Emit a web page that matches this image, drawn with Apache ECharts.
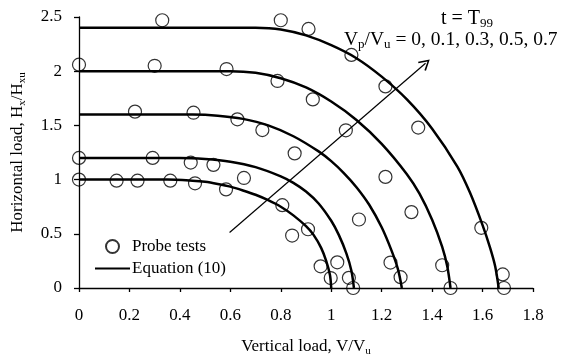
<!DOCTYPE html>
<html>
<head>
<meta charset="utf-8">
<script src="https://cdn.jsdelivr.net/npm/echarts@6/dist/echarts.min.js"></script>
<style>
  html, body { margin: 0; padding: 0; background: #fff; }
  #chart { width: 562px; height: 363px; }
</style>
</head>
<body>
<div id="chart"></div>
<script>
// Axis ranges (V/Vu horizontally, Hx/Hxu vertically)
const xRange = { min: 0, max: 1.8, step: 0.2 };
const yRange = { min: 0, max: 2.5, step: 0.5 };

// Probe test results [V/Vu, Hx/Hxu]
const probeTests = [
  [0, 2.06], [0.33, 2.47], [0.80, 2.47], [0.91, 2.39], [1.08, 2.15],
  [1.215, 1.86], [1.345, 1.48], [1.595, 0.555], [1.68, 0.125], [1.685, 0.0],
  [0.30, 2.05], [0.585, 2.02], [0.787, 1.91], [0.927, 1.74], [1.058, 1.455],
  [1.215, 1.025], [1.318, 0.70], [1.44, 0.21], [1.473, 0.0],
  [0.222, 1.627], [0.454, 1.617], [0.628, 1.556], [0.727, 1.457], [0.855, 1.242],
  [1.11, 0.632], [1.235, 0.235], [1.275, 0.10],
  [0, 1.2], [0.292, 1.2], [0.443, 1.157], [0.533, 1.136], [0.654, 1.015],
  [0.908, 0.542], [1.024, 0.237], [1.07, 0.094], [1.087, 0.0],
  [0, 1.0], [0.149, 0.99], [0.232, 0.99], [0.362, 0.99], [0.46, 0.966],
  [0.583, 0.91], [0.806, 0.764], [0.845, 0.484], [0.958, 0.2], [0.998, 0.092]
];

// Equation (10) envelopes, one per Vp/Vu value
const eqVp00 = [[0, 1.0], [0.35, 1.0], [0.45, 0.99], [0.5, 0.98], [0.55, 0.96], [0.6, 0.935],
  [0.65, 0.9], [0.7, 0.86], [0.75, 0.81], [0.8, 0.75], [0.85, 0.67], [0.9, 0.57],
  [0.93, 0.49], [0.96, 0.37], [0.98, 0.25], [0.995, 0.12], [1.0, 0]];
const eqVp01 = [[0, 1.2], [0.4, 1.2], [0.5, 1.19], [0.6, 1.165], [0.7, 1.115], [0.8, 1.03],
  [0.85, 0.97], [0.9, 0.89], [0.95, 0.78], [1.0, 0.62], [1.03, 0.49], [1.06, 0.32],
  [1.08, 0.16], [1.09, 0]];
const eqVp03 = [[0, 1.6], [0.45, 1.6], [0.55, 1.59], [0.65, 1.56], [0.75, 1.5], [0.85, 1.4],
  [0.95, 1.26], [1.0, 1.17], [1.05, 1.06], [1.1, 0.93], [1.15, 0.77], [1.2, 0.56],
  [1.24, 0.34], [1.265, 0.17], [1.28, 0]];
const eqVp05 = [[0, 2.0], [0.6, 2.0], [0.7, 1.985], [0.8, 1.935], [0.9, 1.85], [1.0, 1.72],
  [1.1, 1.55], [1.2, 1.33], [1.3, 1.05], [1.35, 0.87], [1.4, 0.63], [1.44, 0.38],
  [1.46, 0.2], [1.473, 0]];
const eqVp07 = [[0, 2.4], [0.7, 2.4], [0.8, 2.385], [0.9, 2.33], [1.0, 2.24], [1.1, 2.12],
  [1.2, 1.95], [1.3, 1.74], [1.4, 1.47], [1.5, 1.12], [1.55, 0.88], [1.6, 0.58],
  [1.63, 0.37], [1.65, 0.2], [1.664, 0]];
const equationCurves = [eqVp00, eqVp01, eqVp03, eqVp05, eqVp07];

// Direction arrow of increasing Vp/Vu
const arrowTail = [0.597, 0.512];
const arrowHead = [1.374, 2.074];

const FONT = 'Liberation Serif';
const subStyle = { fontSize: 11, fontFamily: FONT, color: '#000', verticalAlign: 'bottom', lineHeight: 14 };
const subStyleBig = { fontSize: 13, fontFamily: FONT, color: '#000', verticalAlign: 'bottom', lineHeight: 15 };

const chart = echarts.init(document.getElementById('chart'), null, { renderer: 'canvas' });

const curveSeries = equationCurves.map(pts => ({
  name: 'Equation (10)',
  type: 'line',
  data: pts,
  smooth: 0.3,
  symbol: 'none',
  lineStyle: { color: '#000', width: 2.5 },
  itemStyle: { color: 'rgba(0,0,0,0)' },
  silent: true,
  z: 2
}));

const option = {
  animation: false,
  backgroundColor: '#fff',
  grid: { left: 78, right: 29, top: 17, bottom: 75, containLabel: false },
  xAxis: {
    type: 'value', min: xRange.min, max: xRange.max, interval: xRange.step,
    name: 'Vertical load, V/V{sub|u}',
    nameLocation: 'middle', nameGap: 49,
    nameTextStyle: { fontFamily: FONT, fontSize: 17, color: '#000', lineHeight: 20, rich: { sub: subStyle } },
    axisLine: { show: true, onZero: false, lineStyle: { color: '#000', width: 1.3 } },
    axisTick: { show: true, inside: false, length: 4, lineStyle: { color: '#000', width: 1.3 } },
    axisLabel: { fontFamily: FONT, fontSize: 17, color: '#000', margin: 19 },
    splitLine: { show: false }
  },
  yAxis: {
    type: 'value', min: yRange.min, max: yRange.max, interval: yRange.step,
    name: 'Horizontal load, H{sub|x}/H{sub|xu}',
    nameLocation: 'middle', nameGap: 51, nameRotate: 90,
    nameTextStyle: { fontFamily: FONT, fontSize: 17, color: '#000', lineHeight: 20, rich: { sub: subStyle } },
    axisLine: { show: true, onZero: false, lineStyle: { color: '#000', width: 1.3 } },
    axisTick: { show: true, inside: false, length: 5, lineStyle: { color: '#000', width: 1.3 } },
    axisLabel: { fontFamily: FONT, fontSize: 17, color: '#000', margin: 17 },
    splitLine: { show: false }
  },
  legend: {
    orient: 'vertical', left: 89, top: 233,
    itemWidth: 35, itemHeight: 13, itemGap: 5,
    textStyle: { fontFamily: FONT, fontSize: 17, color: '#000', padding: [0, 0, 0, -3] },
    data: ['Probe tests', 'Equation (10)']
  },
  graphic: [
    {
      type: 'text', x: 467, y: 19, silent: true,
      style: {
        text: 't = T{sub|99}', align: 'center', verticalAlign: 'middle',
        fontFamily: FONT, fontSize: 20, fill: '#000', lineHeight: 22,
        rich: { sub: subStyleBig }
      }
    },
    {
      type: 'text', x: 344, y: 40, silent: true,
      style: {
        text: 'V{sub|p}/V{sub|u} = 0, 0.1, 0.3, 0.5, 0.7', align: 'left', verticalAlign: 'middle',
        fontFamily: FONT, fontSize: 19.5, fill: '#000', lineHeight: 22,
        rich: { sub: subStyleBig }
      }
    }
  ],
  series: [
    {
      name: 'Probe tests',
      type: 'scatter',
      data: probeTests,
      symbol: 'circle',
      symbolSize: 13,
      itemStyle: { color: 'rgba(255,255,255,0)', borderColor: '#000', borderWidth: 1.2 },
      silent: true,
      z: 3
    },
    ...curveSeries,
    {
      name: 'arrow',
      type: 'line',
      data: [],
      silent: true,
      markLine: {
        silent: true,
        animation: false,
        label: { show: false },
        lineStyle: { color: '#000', width: 1.2, type: 'solid' },
        symbol: ['none', 'path://M5,0 L10,9 L8.8,9.8 L5,2.6 L1.2,9.8 L0,9 Z'],
        symbolSize: [12, 11],
        symbolOffset: [0, 0],
        data: [[{ coord: arrowTail }, { coord: arrowHead }]]
      },
      z: 4
    }
  ]
};

chart.setOption(option);
</script>
</body>
</html>
